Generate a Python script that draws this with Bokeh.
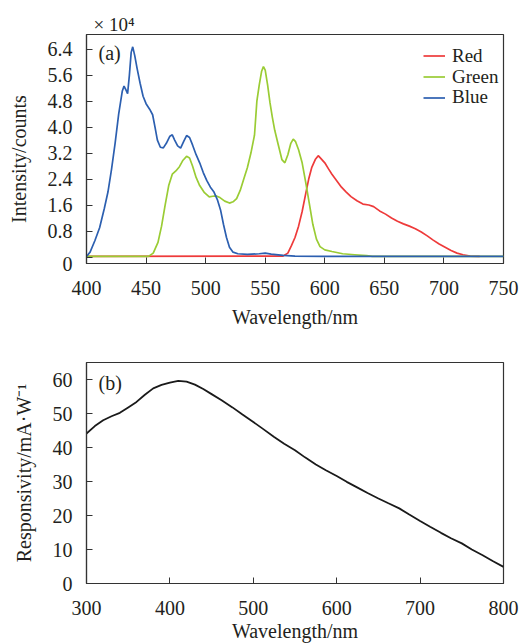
from bokeh.plotting import figure
from bokeh.layouts import column
from bokeh.models import Range1d, FixedTicker, Label, Legend, LegendItem
from bokeh.embed import file_html
from bokeh.resources import INLINE

# ---------------- data: panel (a) emission spectra (x 10^4 counts) ----------------
blue_wl = [400, 403, 407, 411, 415, 418, 421, 424, 427, 430, 431.5, 433, 434.5, 436, 437.5,
           438.8, 440.5, 442.5, 445, 447.5, 450, 453, 455.5, 457.5, 459.5, 462, 464.5, 467,
           470, 472, 474, 476.5, 479, 481.5, 484, 486.5, 489, 492, 495, 498, 501, 504, 507,
           510, 512.5, 515, 517.5, 520, 523, 527, 535, 545, 550, 555, 565, 575, 600, 750]
blue_val = [0.02, 0.15, 0.5, 0.9, 1.5, 2.0, 2.7, 3.5, 4.4, 5.1, 5.26, 5.15, 5.03, 5.6, 6.3,
            6.47, 6.2, 5.8, 5.35, 4.95, 4.72, 4.55, 4.38, 4.0, 3.6, 3.38, 3.36, 3.5,
            3.72, 3.76, 3.6, 3.42, 3.35, 3.55, 3.74, 3.68, 3.45, 3.15, 2.9, 2.6, 2.35, 2.15, 2.0,
            1.75, 1.45, 1.0, 0.6, 0.3, 0.15, 0.1, 0.08, 0.1, 0.12, 0.09, 0.05, 0.03, 0.02, 0.02]

green_wl = [400, 452, 456, 460, 463, 466, 469, 472, 475, 478, 481, 484, 486.5, 489, 492, 495,
            499, 503, 506, 509, 512, 516, 520, 523, 526, 529, 532, 535, 538, 541, 543, 545,
            547, 548.5, 550, 552, 554, 556, 558, 561, 564, 566.5, 569, 571.5, 573.5, 575.5,
            578, 581, 584, 587, 590, 593, 596, 600, 606, 615, 625, 635, 640, 750]
green_val = [0.02, 0.02, 0.12, 0.45, 0.95, 1.6, 2.2, 2.55, 2.65, 2.78, 2.98, 3.1, 3.05, 2.8, 2.45, 2.2,
             1.98, 1.85, 1.87, 1.88, 1.83, 1.72, 1.66, 1.7, 1.8, 2.05, 2.4, 2.75, 3.2, 3.75, 4.8, 5.3,
             5.72, 5.86, 5.75, 5.3, 4.75, 4.3, 3.9, 3.45, 3.0, 2.9, 3.15, 3.5, 3.63, 3.55,
             3.3, 2.9, 2.3, 1.65, 1.0, 0.55, 0.32, 0.22, 0.17, 0.1, 0.07, 0.04, 0.02, 0.02]

red_wl = [400, 565, 569, 572, 575, 578, 581, 584, 586.5, 589, 592, 594.5, 597, 600, 603, 606,
          610, 614, 618, 622, 627, 632, 637, 641, 646, 651, 656, 661, 666, 671, 676, 681,
          686, 691, 696, 701, 706, 711, 716, 722, 730]
red_val = [0.02, 0.03, 0.12, 0.35, 0.6, 0.95, 1.4, 1.95, 2.4, 2.75, 3.0, 3.12, 3.02, 2.9, 2.72, 2.55,
           2.35, 2.15, 2.0, 1.86, 1.73, 1.63, 1.6, 1.55, 1.42, 1.32, 1.2, 1.1, 1.02, 0.95, 0.87, 0.77,
           0.65, 0.52, 0.4, 0.3, 0.2, 0.12, 0.07, 0.03, 0.02]

series_names = ["Red", "Green", "Blue"]

a_xticks = [400, 450, 500, 550, 600, 650, 700, 750]
a_yticks = [0, 0.8, 1.6, 2.4, 3.2, 4.0, 4.8, 5.6, 6.4]
a_ylabels = ["0", "0.8", "1.6", "2.4", "3.2", "4.0", "4.8", "5.6", "6.4"]

# ---------------- data: panel (b) responsivity ----------------
resp_wl = [300, 310, 320, 330, 340, 350, 360, 370, 380, 390, 400, 410, 420, 430, 440, 450,
           462, 475, 487, 500, 512, 525, 537, 550, 562, 575, 587, 600, 612, 625, 637, 650,
           662, 675, 687, 700, 712, 725, 737, 750, 762, 775, 787, 800]
resp_val = [44.1, 46.3, 48.0, 49.2, 50.2, 51.8, 53.4, 55.5, 57.4, 58.4, 59.1, 59.6, 59.4, 58.5, 57.2, 55.7,
            53.9, 51.8, 49.7, 47.5, 45.4, 43.1, 41.1, 39.2, 37.1, 35.0, 33.3, 31.6, 29.9, 28.2, 26.6, 25.0,
            23.6, 22.1, 20.3, 18.4, 16.7, 14.9, 13.3, 11.8, 10.0, 8.3, 6.6, 4.9]

b_xticks = [300, 400, 500, 600, 700, 800]
b_yticks = [0, 10, 20, 30, 40, 50, 60]

FONT = "Liberation Serif"
TXT = "#231f20"
AXC = "#333333"


def style(p):
    p.toolbar_location = None
    p.grid.visible = False
    p.outline_line_color = AXC
    p.outline_line_width = 1.2
    p.background_fill_color = "white"
    p.border_fill_color = "white"
    for ax in (p.xaxis[0], p.yaxis[0]):
        ax.axis_line_color = AXC
        ax.axis_line_width = 1.2
        ax.major_tick_in = 6
        ax.major_tick_out = 0
        ax.major_tick_line_color = AXC
        ax.minor_tick_line_color = None
        ax.major_label_text_font = FONT
        ax.major_label_text_font_size = "20px"
        ax.major_label_text_color = TXT
        ax.axis_label_text_font = FONT
        ax.axis_label_text_font_size = "20px"
        ax.axis_label_text_font_style = "normal"
        ax.axis_label_text_color = TXT
    p.xaxis.major_label_standoff = 17
    p.yaxis.major_label_standoff = 14


# ---------------- panel (a) ----------------
p1 = figure(width=528, height=330, output_backend="svg", toolbar_location=None,
            x_range=Range1d(400, 750), y_range=Range1d(-0.2, 6.85),
            min_border_left=86, min_border_right=22, min_border_top=34, min_border_bottom=67)
style(p1)
r_red = p1.line(red_wl, red_val, line_color="#ee3a3a", line_width=1.7)
r_green = p1.line(green_wl, green_val, line_color="#9acc34", line_width=1.7)
r_blue = p1.line(blue_wl, blue_val, line_color="#2c5fb0", line_width=1.7)
p1.xaxis.ticker = FixedTicker(ticks=a_xticks)
# the "0" label of the original sits at the bottom edge of the frame
p1.yaxis.ticker = FixedTicker(ticks=[-0.2] + a_yticks)
ov = {t: l for t, l in zip(a_yticks, a_ylabels)}
ov[0] = ""
ov[-0.2] = "0"
p1.yaxis.major_label_overrides = ov
p1.xaxis.axis_label = "Wavelength/nm"
# trailing no-break spaces nudge the title a little lower, as in the original
p1.yaxis.axis_label = "Intensity/counts\u00a0\u00a0\u00a0\u00a0"
p1.xaxis.axis_label_standoff = 8
p1.yaxis.axis_label_standoff = 15

p1.title.text = "× 10⁴"
p1.title.align = "left"
p1.title.offset = 7
p1.title.standoff = 0
p1.title.text_font = FONT
p1.title.text_font_size = "19px"
p1.title.text_font_style = "normal"
p1.title.text_color = TXT

# one single-entry legend per series, stacked at the top right of the frame
leg_bottoms = [196.5, 175.5, 155]
for name, rend, yb in zip(series_names, [r_red, r_green, r_blue], leg_bottoms):
    lg = Legend(items=[LegendItem(label=name, renderers=[rend])],
                location=(337, yb), margin=0, padding=0, spacing=0,
                glyph_width=22, glyph_height=19, label_height=19, label_standoff=7,
                label_text_font=FONT, label_text_font_size="19px", label_text_color=TXT,
                border_line_color=None, background_fill_alpha=0)
    p1.add_layout(lg)

p1.add_layout(Label(x=12, y=200, x_units="screen", y_units="screen", text="(a)",
                    text_font=FONT, text_font_size="20px", text_color=TXT))

# ---------------- panel (b) ----------------
p2 = figure(width=528, height=314, output_backend="svg", toolbar_location=None,
            x_range=Range1d(300, 800), y_range=Range1d(0, 65),
            min_border_left=83, min_border_right=25, min_border_top=32, min_border_bottom=61)
style(p2)
p2.line(resp_wl, resp_val, line_color="#1a1a1a", line_width=1.8)
p2.xaxis.ticker = FixedTicker(ticks=b_xticks)
p2.yaxis.ticker = FixedTicker(ticks=b_yticks)
p2.xaxis.axis_label = "Wavelength/nm"
p2.yaxis.axis_label = "Responsivity/mA·W⁻¹"
p2.xaxis.axis_label_standoff = 2
p2.yaxis.axis_label_standoff = 15
p2.add_layout(Label(x=12, y=190, x_units="screen", y_units="screen", text="(b)",
                    text_font=FONT, text_font_size="20px", text_color=TXT))

layout = column(p1, p2)
open("out.html", "w").write(file_html(layout, INLINE))
